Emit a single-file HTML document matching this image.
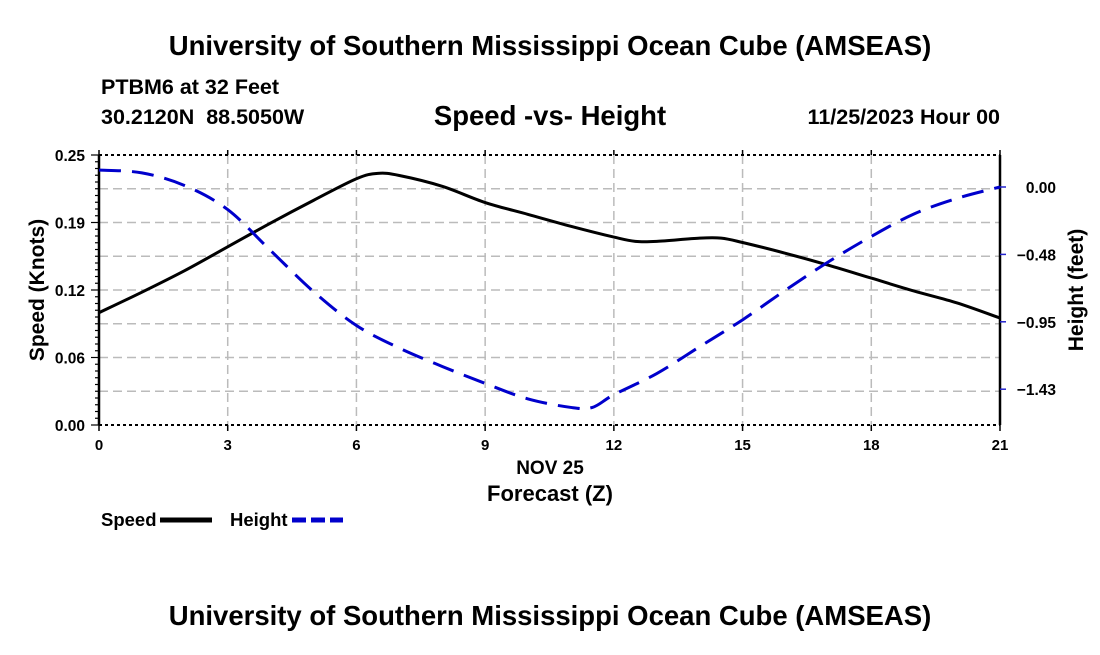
<!DOCTYPE html>
<html><head><meta charset="utf-8"><style>
body{margin:0;background:#fff;}
svg text{font-family:"Liberation Sans",sans-serif;font-weight:bold;fill:#000;white-space:pre;}
</style></head><body>
<svg id="c" width="1100" height="650" viewBox="0 0 1100 650" xmlns="http://www.w3.org/2000/svg">
<text x="550" y="55" font-size="27.5" text-anchor="middle">University of Southern Mississippi Ocean Cube (AMSEAS)</text>
<text x="101" y="94" font-size="21.5">PTBM6 at 32 Feet</text>
<text x="101" y="124" font-size="21.5" xml:space="preserve">30.2120N  88.5050W</text>
<text x="550" y="125" font-size="27.5" text-anchor="middle">Speed -vs- Height</text>
<text x="1000" y="124" font-size="21.5" text-anchor="end">11/25/2023 Hour 00</text>
<g id="grid"></g>
<g id="axes"></g>
<g id="series"></g>
<text x="550" y="474" font-size="19" text-anchor="middle">NOV 25</text>
<text x="550" y="501" font-size="22" text-anchor="middle">Forecast (Z)</text>
<text transform="translate(44,290) rotate(-90)" font-size="21" text-anchor="middle">Speed (Knots)</text>
<text transform="translate(1083,290) rotate(-90)" font-size="21" text-anchor="middle">Height (feet)</text>
<g>
<text x="101" y="526" font-size="18.5">Speed</text>
<line x1="160" y1="520" x2="212" y2="520" stroke="#000" stroke-width="5"/></g>
<g>
<text x="230" y="526" font-size="18.5">Height</text>
<line x1="292" y1="520" x2="343" y2="520" stroke="#00c" stroke-width="5" stroke-dasharray="14,5"/></g>
<text x="550" y="625" font-size="27.5" text-anchor="middle">University of Southern Mississippi Ocean Cube (AMSEAS)</text>
</svg>
<script>
const hours=[0,1,2,3,4,5,6,6.5,7,8,9,10,11,12,12.5,13,14,14.5,15,16,17,18,19,20,21];
const speed=[0.104,0.123,0.143,0.165,0.187,0.208,0.228,0.233,0.231,0.221,0.206,0.195,0.184,0.174,0.170,0.170,0.173,0.173,0.169,0.159,0.148,0.136,0.124,0.113,0.099];
const hHours=[0,1,2,3,4,5,6,7,8,9,10,11,11.5,12,13,14,15,16,17,18,19,20,21];
const height=[0.12,0.10,0.01,-0.16,-0.45,-0.74,-0.98,-1.14,-1.27,-1.39,-1.50,-1.56,-1.56,-1.47,-1.32,-1.13,-0.94,-0.73,-0.53,-0.35,-0.19,-0.08,0.00];
const xTicks=[0,3,6,9,12,15,18,21];
const leftTicks=[0,0.0625,0.125,0.1875,0.25];
const leftLabels=["0.00","0.06","0.12","0.19","0.25"];
const rightTicks=[0,-0.477,-0.954,-1.431];
const rightLabels=["0.00","\u22120.48","\u22120.95","\u22121.43"];
const L=99,R=1000,T=155,B=425;
const xs=h=>L+(R-L)*h/21;
const ys=v=>B-(B-T)*v/0.25;
const yh=v=>187-141.3*v;
const NS="http://www.w3.org/2000/svg";
function mk(p,tag,at){const e=document.createElementNS(NS,tag);for(const k in at)e.setAttribute(k,at[k]);p.appendChild(e);return e;}
const grid=document.getElementById('grid'),axes=document.getElementById('axes'),ser=document.getElementById('series');
for(let i=1;i<8;i++){const y=ys(i*0.03125);const l=mk(grid,'line',{x1:L,x2:R,y1:y,y2:y,stroke:'#bbb','stroke-width':1.5,'stroke-dasharray':'9,5'});

}
xTicks.forEach(t=>{const x=xs(t);
if(t>0&&t<21){const l=mk(grid,'line',{x1:x,x2:x,y1:T,y2:B,stroke:'#bbb','stroke-width':1.5,'stroke-dasharray':'9,5'});

}
mk(axes,'line',{x1:x,x2:x,y1:B,y2:B+6,stroke:'#000','stroke-width':1.5});
mk(axes,'line',{x1:x,x2:x,y1:T,y2:T-5,stroke:'#000','stroke-width':1.5});
const tx=mk(axes,'text',{x:x,y:B+25,'font-size':15,'text-anchor':'middle'});tx.textContent=t;

});
mk(axes,'line',{x1:L,x2:R,y1:T,y2:T,stroke:'#000','stroke-width':2,'stroke-dasharray':'3,3'});
mk(axes,'line',{x1:L,x2:R,y1:B,y2:B,stroke:'#000','stroke-width':2,'stroke-dasharray':'3,3'});
mk(axes,'line',{x1:L,x2:L,y1:T,y2:B,stroke:'#000','stroke-width':2.5});
mk(axes,'line',{x1:R,x2:R,y1:T,y2:B,stroke:'#000','stroke-width':2.5});
for(let i=0;i<=40;i++){const y=ys(i*0.00625);mk(axes,'line',{x1:L-(i%10==0?8:4),x2:L,y1:y,y2:y,stroke:'#000','stroke-width':1.2});}
leftTicks.forEach((v,i)=>{const tx=mk(axes,'text',{x:L-14,y:ys(v)+6,'font-size':15.5,'text-anchor':'end'});tx.textContent=leftLabels[i];

});
rightTicks.forEach((v,i)=>{const y=yh(v);mk(axes,'line',{x1:R,x2:R+6,y1:y,y2:y,stroke:'#22c','stroke-width':1.5});
const tx=mk(axes,'text',{x:1056,y:y+6,'font-size':15.5,'text-anchor':'end'});tx.textContent=rightLabels[i];

});
function path(xv,yv,fx,fy){const p=xv.map((h,i)=>[fx(h),fy(yv[i])]);let d='M'+p[0][0]+','+p[0][1];
for(let i=0;i<p.length-1;i++){const p0=p[i-1]||p[i],p1=p[i],p2=p[i+1],p3=p[i+2]||p2;
d+=' C'+(p1[0]+(p2[0]-p0[0])/6)+','+(p1[1]+(p2[1]-p0[1])/6)+' '+(p2[0]-(p3[0]-p1[0])/6)+','+(p2[1]-(p3[1]-p1[1])/6)+' '+p2[0]+','+p2[1];}return d;}
const s=mk(ser,'path',{d:path(hours,speed,xs,ys),fill:'none',stroke:'#000','stroke-width':3});


const h=mk(ser,'path',{d:path(hHours,height,xs,yh),fill:'none',stroke:'#00c','stroke-width':3,'stroke-dasharray':'22,11'});


</script>
</body></html>
